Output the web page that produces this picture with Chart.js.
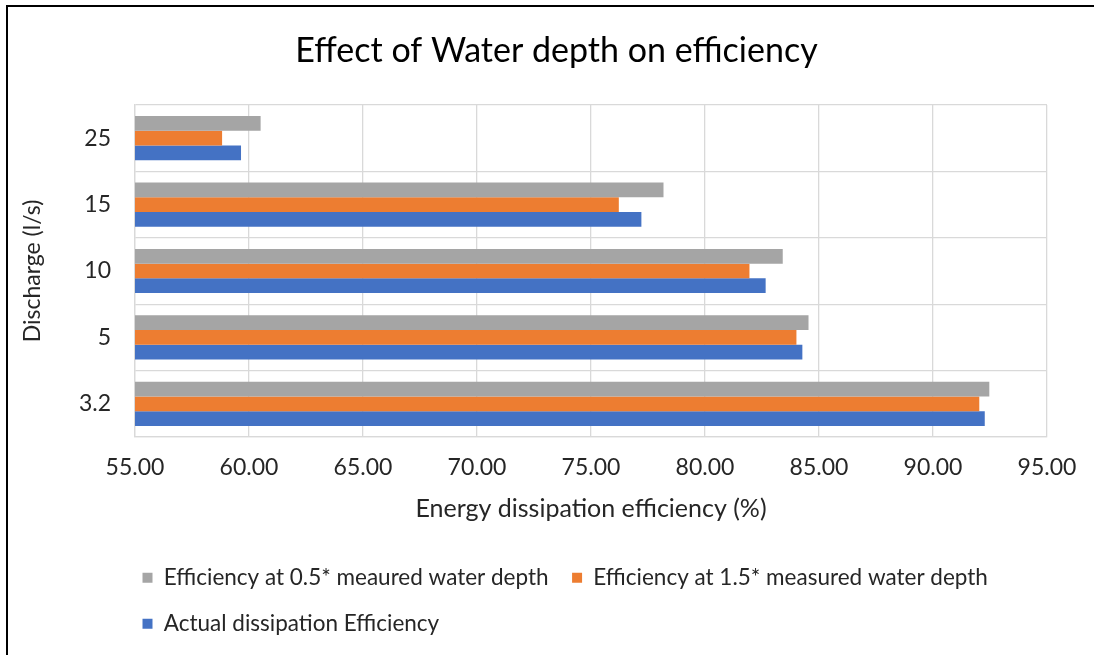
<!DOCTYPE html>
<html>
<head>
<meta charset="utf-8">
<script src="https://cdn.jsdelivr.net/npm/chart.js@4/dist/chart.umd.min.js"></script>
<style>
  html, body { margin: 0; padding: 0; background: #fff; overflow: hidden; }
  #wrap { position: relative; width: 1094px; height: 655px; overflow: hidden; }
  #frame { position: absolute; left: 6px; top: 5px; width: 1300px; height: 900px;
           border-top: 2px solid #000; border-left: 2px solid #000; pointer-events: none; }
</style>
</head>
<body>
<div id="wrap">
  <canvas id="c" width="1094" height="655"></canvas>
  <div id="frame"></div>
</div>
<script>
const categories = ['25', '15', '10', '5', '3.2'];
const effHalfDepth = [60.51, 78.18, 83.41, 84.54, 92.47];
const effOneHalfDepth = [58.82, 76.22, 81.95, 84.01, 92.03];
const actualEff = [59.65, 77.21, 82.66, 84.27, 92.27];
const seriesNames = [
  'Efficiency at 0.5* meaured water depth',
  'Efficiency at 1.5* measured water depth',
  'Actual dissipation Efficiency'
];
const xMin = 55, xMax = 95, xStep = 5;

const FONT = 'Lato, "Liberation Sans", sans-serif';
const TXT = '#262626';
const GRID = '#D9D9D9';

const boxShift = {
  id: 'boxShift',
  afterLayout(chart) {
    if (chart.legend) {
      chart.legend.left += 109;
      chart.legend.right += 109;
    }
    if (chart.titleBlock) {
      chart.titleBlock.left += 28;
      chart.titleBlock.right += 28;
    }
  }
};

new Chart(document.getElementById('c'), {
  type: 'bar',
  data: {
    labels: categories,
    datasets: [
      { label: seriesNames[0], data: effHalfDepth, backgroundColor: '#A5A5A5' },
      { label: seriesNames[1], data: effOneHalfDepth, backgroundColor: '#ED7D31' },
      { label: seriesNames[2], data: actualEff, backgroundColor: '#4472C4' }
    ]
  },
  plugins: [boxShift],
  options: {
    indexAxis: 'y',
    responsive: false,
    animation: false,
    devicePixelRatio: 1,
    datasets: { bar: { categoryPercentage: 0.665, barPercentage: 1.0 } },
    layout: { padding: { left: 10, right: 47, top: 10, bottom: 10 } },
    plugins: {
      title: {
        display: true,
        text: 'Effect of Water depth on efficiency',
        color: '#000',
        font: { family: FONT, size: 34, weight: 'normal' },
        padding: { top: 21, bottom: 33.2 }
      },
      legend: {
        position: 'bottom',
        align: 'start',
        labels: {
          color: TXT,
          font: { family: FONT, size: 22.5 },
          boxWidth: 10,
          boxHeight: 10,
          padding: 23.5
        }
      },
      tooltip: { enabled: false }
    },
    scales: {
      x: {
        min: xMin,
        max: xMax,
        ticks: {
          stepSize: xStep,
          color: TXT,
          font: { family: FONT, size: 23 },
          padding: 17,
          callback: v => Number(v).toFixed(2)
        },
        grid: { color: GRID, lineWidth: 1.3, drawTicks: false },
        border: { color: GRID, width: 1.3 },
        title: {
          display: true,
          text: 'Energy dissipation efficiency (%)',
          color: TXT,
          font: { family: FONT, size: 25 },
          padding: { top: 0, bottom: 19 }
        },
        afterFit(scale) { scale.height = 106; }
      },
      y: {
        ticks: {
          color: TXT,
          font: { family: FONT, size: 23 },
          padding: 24
        },
        grid: { color: GRID, lineWidth: 1.3, drawTicks: false },
        border: { color: GRID, width: 1.3 },
        title: {
          display: true,
          text: 'Discharge (l/s)',
          color: TXT,
          font: { family: FONT, size: 23 },
          padding: { top: 9, bottom: 0 }
        },
        afterFit(scale) { scale.width = 125; }
      }
    }
  }
});
</script>
</body>
</html>
